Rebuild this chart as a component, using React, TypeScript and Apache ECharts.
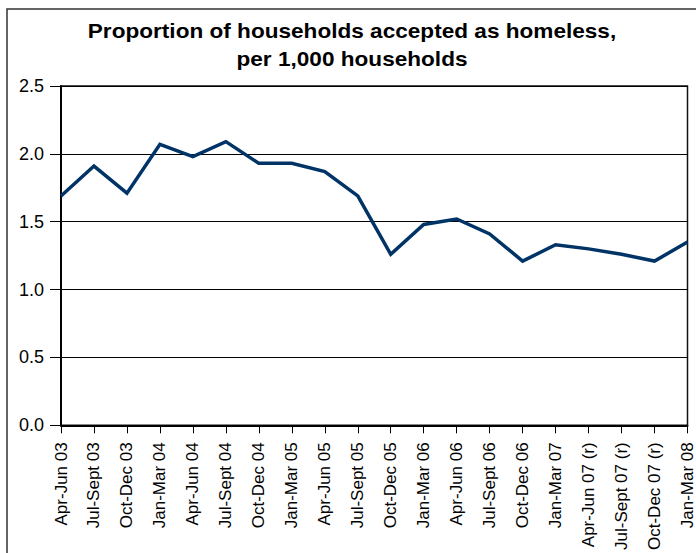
import React, { useEffect, useRef } from "react";
import * as echarts from "echarts";

const categories = [
  "Apr-Jun 03", "Jul-Sept 03", "Oct-Dec 03", "Jan-Mar 04", "Apr-Jun 04",
  "Jul-Sept 04", "Oct-Dec 04", "Jan-Mar 05", "Apr-Jun 05", "Jul-Sept 05",
  "Oct-Dec 05", "Jan-Mar 06", "Apr-Jun 06", "Jul-Sept 06", "Oct-Dec 06",
  "Jan-Mar 07", "Apr-Jun 07 (r)", "Jul-Sept 07 (r)", "Oct-Dec 07 (r)", "Jan-Mar 08",
];
const values = [
  1.69, 1.91, 1.71, 2.07, 1.98, 2.09, 1.93, 1.93, 1.87, 1.69,
  1.26, 1.48, 1.52, 1.41, 1.21, 1.33, 1.30, 1.26, 1.21, 1.35,
];
const titleLines = ["Proportion of households accepted as homeless,", "per 1,000 households"];

const FONT = "Liberation Sans, Arial, sans-serif";

export default function App() {
  const ref = useRef<HTMLDivElement>(null);
  useEffect(() => {
    if (!ref.current) return;
    const chart = echarts.init(ref.current, null, { renderer: "svg" });
    chart.setOption({
      animation: false,
      backgroundColor: "#fff",
      textStyle: { fontFamily: FONT },
      graphic: [
        {
          type: "rect",
          shape: { x: 7, y: 9, width: 720, height: 600 },
          style: { fill: "none", stroke: "#333", lineWidth: 1.5 },
          silent: true,
          z: -1,
        },
        ...titleLines.map((t, i) => ({
          type: "text",
          x: 352,
          y: 31 + i * 28.5,
          scaleX: 1.13,
          style: {
            text: t,
            font: `bold 20px ${FONT}`,
            fill: "#000",
            textAlign: "center",
            textVerticalAlign: "middle",
          },
          silent: true,
        })),
      ],
      grid: {
        left: 61,
        top: 86,
        right: 6,
        bottom: 126,
        show: true,
        borderColor: "#111",
        borderWidth: 1.5,
        backgroundColor: "#fff",
      },
      xAxis: {
        type: "category",
        data: categories,
        boundaryGap: false,
        axisLine: { show: true, lineStyle: { color: "#000", width: 2 } },
        axisTick: { show: true, length: 8, inside: false, lineStyle: { color: "#000", width: 1 } },
        axisLabel: {
          rotate: 90,
          interval: 0,
          margin: 17,
          fontSize: 17,
          color: "#000",
          fontFamily: FONT,
        },
        splitLine: { show: false },
      },
      yAxis: {
        type: "value",
        min: 0,
        max: 2.5,
        interval: 0.5,
        axisLine: { show: true, lineStyle: { color: "#000", width: 2 } },
        axisTick: { show: true, length: 11, lineStyle: { color: "#000", width: 1 } },
        axisLabel: {
          formatter: (v: number) => v.toFixed(1),
          fontSize: 18,
          color: "#000",
          margin: 17,
          fontFamily: FONT,
        },
        splitLine: { show: true, lineStyle: { color: "#000", width: 1 } },
      },
      series: [
        {
          type: "line",
          data: values,
          showSymbol: false,
          symbol: "none",
          lineStyle: { color: "#003366", width: 3.5, join: "miter" },
        },
      ],
    });
    return () => chart.dispose();
  }, []);
  return (
    <div
      ref={ref}
      style={{ position: "fixed", left: 0, top: 0, width: 696, height: 553 }}
    />
  );
}
